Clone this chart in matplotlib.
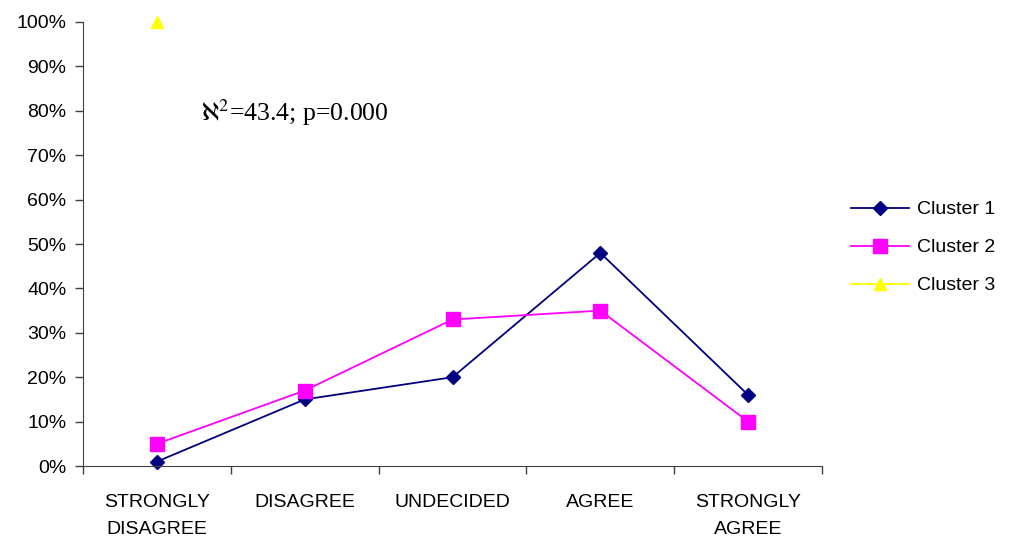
import matplotlib
matplotlib.use("Agg")
import matplotlib.pyplot as plt
import numpy as np

categories = ["STRONGLY\nDISAGREE", "DISAGREE", "UNDECIDED", "AGREE", "STRONGLY\nAGREE"]
cluster1 = [1, 15, 20, 48, 16]
cluster2 = [5, 17, 33, 35, 10]
cluster3 = [100, None, None, None, None]

plt.rcParams['font.family'] = ['Liberation Sans', 'DejaVu Sans']
plt.rcParams['mathtext.fontset'] = 'stix'

fig = plt.figure(figsize=(10.09, 5.39), dpi=100)
ax = fig.add_axes([0.0823, 0.1354, 0.7324, 0.8238])

x = np.arange(len(categories))
c3 = np.array([np.nan if v is None else v for v in cluster3], dtype=float)

ax.plot(x, cluster1, color='#000080', lw=1.3, marker='D', ms=7, label='Cluster 1', clip_on=False)
ax.plot(x, cluster2, color='#FF00FF', lw=1.3, marker='s', ms=10, label='Cluster 2', clip_on=False)
ax.plot(x, c3, color='#FFFF00', lw=1.3, marker='^', ms=9, label='Cluster 3', clip_on=False)

ax.set_xlim(-0.5, len(categories) - 0.5)
ax.set_ylim(0, 100)
ax.set_yticks(np.arange(0, 101, 10))
ax.set_yticklabels([f"{v}%" for v in range(0, 101, 10)], fontsize=14)
ax.set_xticks(x)
ax.set_xticklabels(categories, fontsize=14, linespacing=1.75)
ax.tick_params(axis='x', length=0, pad=20)
ax.set_xticks(np.arange(-0.5, len(categories)), minor=True)
ax.tick_params(axis='x', which='minor', length=6, width=1, color='#404040')
ax.tick_params(axis='y', length=6, width=1, color='#404040', pad=6)

for s in ['top', 'right']:
    ax.spines[s].set_visible(False)
for s in ['left', 'bottom']:
    ax.spines[s].set_color('#404040')

ax.text(0.3, 79.5, r'$\aleph^2$=43.4; p=0.000', fontsize=18.5,
        family=['Liberation Serif', 'DejaVu Serif'], va='center')

fig.legend(loc='upper left', bbox_to_anchor=(0.826, 0.66), frameon=False,
           fontsize=14, handlelength=3.0, labelspacing=1.05, handletextpad=0.4)

fig.savefig("out.png", dpi=100)
